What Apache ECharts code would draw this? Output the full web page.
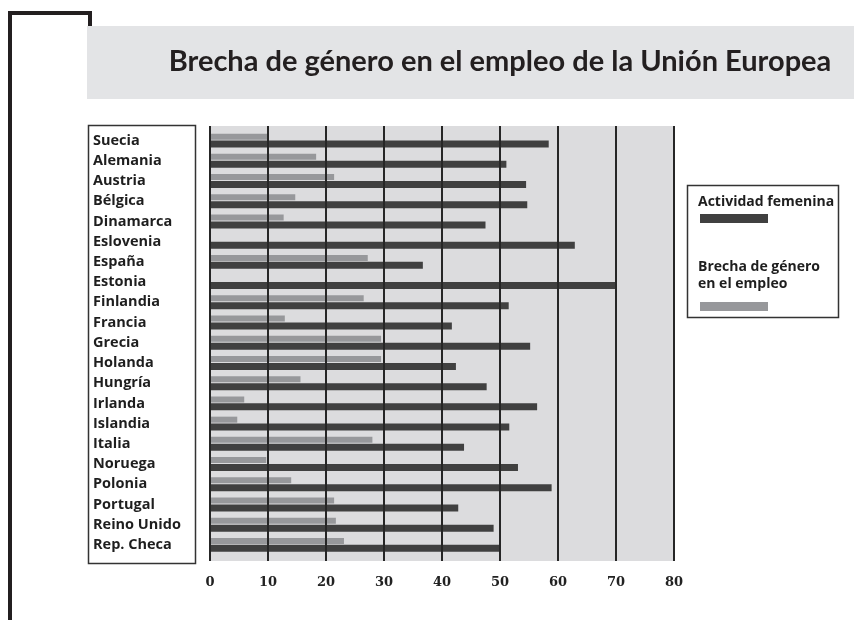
<!DOCTYPE html>
<html>
<head>
<meta charset="utf-8">
<script src="https://cdn.jsdelivr.net/npm/echarts@6/dist/echarts.min.js"></script>
<style>html,body{margin:0;padding:0;background:#fff}#c{width:854px;height:620px}</style>
</head>
<body>
<div id="c"></div>
<script>
var categories = ['Suecia','Alemania','Austria','Bélgica','Dinamarca','Eslovenia','España','Estonia','Finlandia','Francia','Grecia','Holanda','Hungría','Irlanda','Islandia','Italia','Noruega','Polonia','Portugal','Reino Unido','Rep. Checa'];
var actividadFemenina = [58.4, 51.1, 54.5, 54.7, 47.5, 62.9, 36.7, 70.0, 51.5, 41.7, 55.2, 42.4, 47.7, 56.4, 51.6, 43.8, 53.1, 58.9, 42.8, 48.9, 50.0];
var brechaGenero = [10.0, 18.3, 21.4, 14.7, 12.7, null, 27.2, null, 26.5, 12.9, 29.5, 29.5, 15.6, 5.9, 4.7, 28.0, 9.7, 14.0, 21.4, 21.7, 23.1];
var xTicks = [0, 10, 20, 30, 40, 50, 60, 70, 80];
var titleText = 'Brecha de género en el empleo de la Unión Europea';
var legendNames = ['Actividad femenina', 'Brecha de género\nen el empleo'];

var darkColor = '#404040';
var lightColor = '#97989b';
var sans = '"Open Sans", Lato, sans-serif';

var chart = echarts.init(document.getElementById('c'), null, {renderer: 'canvas'});
chart.setOption({
  animation: false,
  backgroundColor: '#ffffff',
  grid: [
    {left: 210, right: 180, top: 126, bottom: 59, show: true, backgroundColor: '#dcdcde', borderWidth: 0},
    {left: 210, right: 180, top: 130.5, bottom: 65, show: false}
  ],
  xAxis: [
    {
      type: 'value', gridIndex: 0, min: xTicks[0], max: xTicks[xTicks.length - 1], interval: 10, z: 10,
      axisLine: {show: false}, axisTick: {show: false},
      splitLine: {show: true, lineStyle: {color: '#262626', width: 2}},
      axisLabel: {margin: 15, color: '#222', fontFamily: '"DejaVu Serif", serif', fontWeight: 'bold', fontSize: 13}
    },
    {
      type: 'value', gridIndex: 1, min: xTicks[0], max: xTicks[xTicks.length - 1], show: false
    }
  ],
  yAxis: [
    {type: 'category', gridIndex: 0, data: categories, show: false},
    {
      type: 'category', gridIndex: 1, data: categories, inverse: true,
      axisLine: {show: false}, axisTick: {show: false}, splitLine: {show: false},
      axisLabel: {align: 'left', margin: 117, color: '#1e1e1e', fontFamily: sans, fontWeight: 'bold', fontSize: 14.5}
    }
  ],
  series: [
    {
      name: legendNames[1], type: 'bar', xAxisIndex: 1, yAxisIndex: 1, data: brechaGenero,
      barWidth: 6, barGap: '15%', itemStyle: {color: lightColor}
    },
    {
      name: legendNames[0], type: 'bar', xAxisIndex: 1, yAxisIndex: 1, data: actividadFemenina,
      barWidth: 7, itemStyle: {color: darkColor}
    }
  ],
  graphic: [
    {type: 'rect', shape: {x: 87, y: 26, width: 767, height: 73}, style: {fill: '#e3e4e6'}, z: -1},
    {type: 'polyline', shape: {points: [[10, 620], [10, 13], [90, 13], [90, 26]]}, style: {stroke: '#231f20', lineWidth: 4, fill: null}, z: 1},
    {type: 'text', x: 500, y: 62, style: {text: titleText, fill: '#231f20', font: 'bold 29px Lato, "Open Sans", sans-serif', textAlign: 'center', textVerticalAlign: 'middle'}, z: 2},
    {type: 'rect', shape: {x: 88.5, y: 125.5, width: 107, height: 438}, style: {fill: '#fff', stroke: '#333', lineWidth: 1.5}, z: -1},
    {type: 'rect', shape: {x: 687.5, y: 185.5, width: 151, height: 132}, style: {fill: '#fff', stroke: '#333', lineWidth: 1.5}, z: 1},
    {type: 'text', x: 698, y: 202, style: {text: legendNames[0], fill: '#1e1e1e', font: 'bold 14px ' + sans, textVerticalAlign: 'middle'}, z: 2},
    {type: 'rect', shape: {x: 700, y: 214, width: 68, height: 9}, style: {fill: darkColor}, z: 2},
    {type: 'text', x: 698, y: 259, style: {text: legendNames[1], fill: '#1e1e1e', font: 'bold 14px ' + sans, lineHeight: 17}, z: 2},
    {type: 'rect', shape: {x: 700, y: 302, width: 68, height: 9}, style: {fill: lightColor}, z: 2}
  ]
});
</script>
</body>
</html>
